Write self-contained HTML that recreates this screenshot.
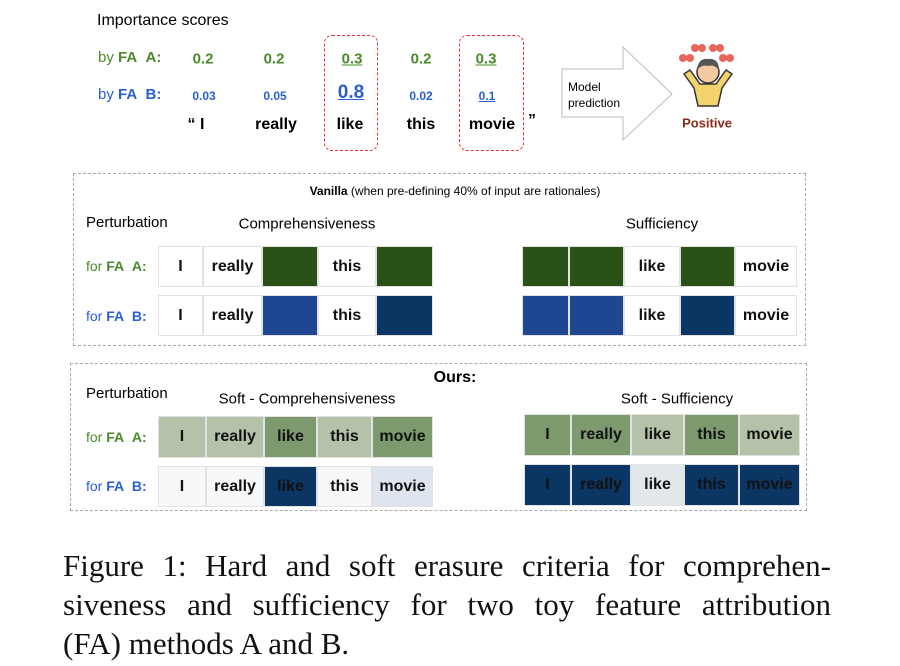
<!DOCTYPE html>
<html><head><meta charset="utf-8"><style>
body{margin:0;background:#fff;width:900px;height:666px;position:relative;overflow:hidden;font-family:"Liberation Sans",sans-serif}
.a{position:absolute;white-space:nowrap}
.t{position:absolute;transform:translate(-50%,-50%);white-space:nowrap}
.g{color:#4a8a2a}.b{color:#2a5fd0}
.c{position:absolute;display:flex;align-items:center;justify-content:center;font-size:16px;font-weight:bold;color:#111;box-sizing:border-box;border:1px solid #e2e2e2}
.box{position:absolute;border:1.3px dashed #aaa}
.cap{position:absolute;left:63px;width:768px;font-family:"Liberation Serif",serif;font-size:31px;text-align:justify;text-align-last:justify;color:#111;white-space:nowrap}
</style></head><body>
<div class="a" style="left:97px;top:12px;font-size:16px">Importance scores</div>
<div class="a g" style="left:98px;top:49px;font-size:15px">by <b>FA</b> &nbsp;<b>A:</b></div>
<div class="a b" style="left:98px;top:86px;font-size:15px">by <b>FA</b> &nbsp;<b>B:</b></div>
<div class="t g" style="left:203px;top:59px;font-size:15px;font-weight:bold">0.2</div>
<div class="t g" style="left:274px;top:59px;font-size:15px;font-weight:bold">0.2</div>
<div class="t g" style="left:352px;top:59px;font-size:15px;font-weight:bold;text-decoration:underline">0.3</div>
<div class="t g" style="left:421px;top:59px;font-size:15px;font-weight:bold">0.2</div>
<div class="t g" style="left:486px;top:59px;font-size:15px;font-weight:bold;text-decoration:underline">0.3</div>
<div class="t b" style="left:204px;top:96px;font-size:12px;font-weight:bold">0.03</div>
<div class="t b" style="left:275px;top:96px;font-size:12px;font-weight:bold">0.05</div>
<div class="t b" style="left:351px;top:93px;font-size:19px;font-weight:bold;text-decoration:underline">0.8</div>
<div class="t b" style="left:421px;top:96px;font-size:12px;font-weight:bold">0.02</div>
<div class="t b" style="left:487px;top:96px;font-size:12px;font-weight:bold;text-decoration:underline">0.1</div>
<div class="t" style="left:196px;top:125px;font-size:16px;font-weight:bold">“ I</div>
<div class="t" style="left:276px;top:125px;font-size:16px;font-weight:bold">really</div>
<div class="t" style="left:350px;top:125px;font-size:16px;font-weight:bold">like</div>
<div class="t" style="left:421px;top:125px;font-size:16px;font-weight:bold">this</div>
<div class="t" style="left:492px;top:125px;font-size:16px;font-weight:bold">movie</div>
<div class="t" style="left:532px;top:121px;font-size:16px;font-weight:bold">”</div>
<div class="a" style="left:324px;top:35px;width:52px;height:114px;border:1.5px dashed #e83030;border-radius:8px"></div>
<div class="a" style="left:459px;top:35px;width:63px;height:114px;border:1.5px dashed #e83030;border-radius:8px"></div>
<svg class="a" style="left:555px;top:42px" width="125" height="105"><polygon points="7,27 68,27 68,5 117,52 68,98 68,75 7,75" fill="#fff" stroke="#bbb" stroke-width="1"/></svg>
<div class="a" style="left:568px;top:79px;font-size:12px;line-height:16px">Model<br>prediction</div>
<svg class="a" style="left:670px;top:40px" width="75" height="70">
<g fill="#e8655a"><circle cx="13" cy="18" r="4"/><circle cx="20" cy="18" r="4"/><circle cx="25" cy="8" r="4"/><circle cx="32" cy="8" r="4"/><circle cx="43" cy="8" r="4"/><circle cx="50" cy="8" r="4"/><circle cx="53" cy="18" r="4"/><circle cx="60" cy="18" r="4"/></g>
<path d="M14 34 L24 48 L28 66 L48 66 L52 48 L62 34 L56 30 L46 44 L30 44 L20 30Z" fill="#f2d26a" stroke="#333" stroke-width="1.5"/>
<circle cx="38" cy="32" r="11" fill="#f5c9a0" stroke="#333" stroke-width="1.5"/>
<path d="M27 30 Q28 18 38 19 Q49 18 49 30 Q44 24 38 26 Q32 24 27 30Z" fill="#555"/>
</svg>
<div class="t" style="left:707px;top:123px;font-size:13px;font-weight:bold;color:#8b2a1a">Positive</div>

<div class="box" style="left:73px;top:173px;width:731px;height:171px"></div>
<div class="t" style="left:455px;top:191px;font-size:12px"><b>Vanilla</b> (when pre-defining 40% of input are rationales)</div>
<div class="a" style="left:86px;top:214px;font-size:15px">Perturbation</div>
<div class="t" style="left:307px;top:224px;font-size:15px">Comprehensiveness</div>
<div class="t" style="left:662px;top:224px;font-size:15px">Sufficiency</div>
<div class="a g" style="left:86px;top:258px;font-size:14px">for <b>FA</b> &nbsp;<b>A:</b></div>
<div class="a b" style="left:86px;top:308px;font-size:14px">for <b>FA</b> &nbsp;<b>B:</b></div>
<div class="c" style="left:158px;top:246px;width:45px;height:41px;background:#fff">I</div>
<div class="c" style="left:203px;top:246px;width:59px;height:41px;background:#fff">really</div>
<div class="c" style="left:262px;top:246px;width:56px;height:41px;background:#2a5217"></div>
<div class="c" style="left:318px;top:246px;width:58px;height:41px;background:#fff">this</div>
<div class="c" style="left:376px;top:246px;width:57px;height:41px;background:#2a5217"></div>
<div class="c" style="left:158px;top:295px;width:45px;height:41px;background:#fff">I</div>
<div class="c" style="left:203px;top:295px;width:59px;height:41px;background:#fff">really</div>
<div class="c" style="left:262px;top:295px;width:56px;height:41px;background:#1f4690"></div>
<div class="c" style="left:318px;top:295px;width:58px;height:41px;background:#fff">this</div>
<div class="c" style="left:376px;top:295px;width:57px;height:41px;background:#0b3562"></div>
<div class="c" style="left:522px;top:246px;width:47px;height:41px;background:#2a5217"></div>
<div class="c" style="left:569px;top:246px;width:55px;height:41px;background:#2a5217"></div>
<div class="c" style="left:624px;top:246px;width:56px;height:41px;background:#fff">like</div>
<div class="c" style="left:680px;top:246px;width:55px;height:41px;background:#2a5217"></div>
<div class="c" style="left:735px;top:246px;width:62px;height:41px;background:#fff">movie</div>
<div class="c" style="left:522px;top:295px;width:47px;height:41px;background:#1f4690"></div>
<div class="c" style="left:569px;top:295px;width:55px;height:41px;background:#1f4690"></div>
<div class="c" style="left:624px;top:295px;width:56px;height:41px;background:#fff">like</div>
<div class="c" style="left:680px;top:295px;width:55px;height:41px;background:#0b3562"></div>
<div class="c" style="left:735px;top:295px;width:62px;height:41px;background:#fff">movie</div>

<div class="box" style="left:70px;top:363px;width:735px;height:146px"></div>
<div class="t" style="left:455px;top:378px;font-size:16px;font-weight:bold">Ours:</div>
<div class="a" style="left:86px;top:385px;font-size:15px">Perturbation</div>
<div class="t" style="left:307px;top:399px;font-size:15px">Soft - Comprehensiveness</div>
<div class="t" style="left:677px;top:399px;font-size:15px">Soft - Sufficiency</div>
<div class="a g" style="left:86px;top:429px;font-size:14px">for <b>FA</b> &nbsp;<b>A:</b></div>
<div class="a b" style="left:86px;top:478px;font-size:14px">for <b>FA</b> &nbsp;<b>B:</b></div>
<div class="c" style="left:158px;top:416px;width:48px;height:42px;background:#b3c2a8">I</div>
<div class="c" style="left:206px;top:416px;width:58px;height:42px;background:#b3c2a8">really</div>
<div class="c" style="left:264px;top:416px;width:53px;height:42px;background:#7d9a6f">like</div>
<div class="c" style="left:317px;top:416px;width:55px;height:42px;background:#b3c2a8">this</div>
<div class="c" style="left:372px;top:416px;width:61px;height:42px;background:#7d9a6f">movie</div>
<div class="c" style="left:158px;top:466px;width:48px;height:41px;background:#f7f8fa">I</div>
<div class="c" style="left:206px;top:466px;width:58px;height:41px;background:#f7f8fa">really</div>
<div class="c" style="left:264px;top:466px;width:53px;height:41px;background:#0b3562">like</div>
<div class="c" style="left:317px;top:466px;width:55px;height:41px;background:#f7f8fa">this</div>
<div class="c" style="left:372px;top:466px;width:61px;height:41px;background:#dfe5ee">movie</div>
<div class="c" style="left:524px;top:414px;width:47px;height:42px;background:#7d9a6f">I</div>
<div class="c" style="left:571px;top:414px;width:60px;height:42px;background:#7d9a6f">really</div>
<div class="c" style="left:631px;top:414px;width:53px;height:42px;background:#b3c2a8">like</div>
<div class="c" style="left:684px;top:414px;width:55px;height:42px;background:#7d9a6f">this</div>
<div class="c" style="left:739px;top:414px;width:61px;height:42px;background:#b3c2a8">movie</div>
<div class="c" style="left:524px;top:464px;width:47px;height:42px;background:#0b3562">I</div>
<div class="c" style="left:571px;top:464px;width:60px;height:42px;background:#0b3562">really</div>
<div class="c" style="left:631px;top:464px;width:53px;height:42px;background:#e2e7ec">like</div>
<div class="c" style="left:684px;top:464px;width:55px;height:42px;background:#0b3562">this</div>
<div class="c" style="left:739px;top:464px;width:61px;height:42px;background:#0b3562">movie</div>

<div class="cap" style="top:548px">Figure 1: Hard and soft erasure criteria for comprehen-</div>
<div class="cap" style="top:587px">siveness and sufficiency for two toy feature attribution</div>
<div class="cap" style="top:626px;text-align-last:left">(FA) methods A and B.</div>
</body></html>
